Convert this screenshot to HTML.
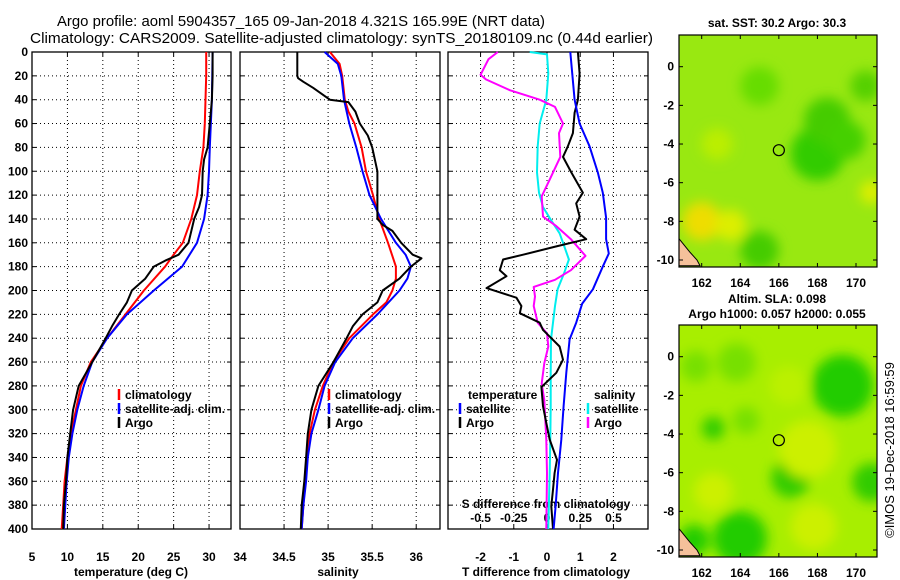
<!DOCTYPE html>
<html><head><meta charset="utf-8"><style>
html,body{margin:0;padding:0;background:#fff;}
svg{display:block;font-family:"Liberation Sans",Arial,sans-serif;}
.t{font-size:12px;font-weight:bold;fill:#000;}
.ttl{font-size:15px;fill:#000;}
</style></head><body>
<svg id="fig" width="900" height="580" viewBox="0 0 900 580" xmlns="http://www.w3.org/2000/svg">
<text class="ttl" x="57" y="26" textLength="488" lengthAdjust="spacingAndGlyphs">Argo profile: aoml 5904357_165 09-Jan-2018 4.321S 165.99E (NRT data)</text>
<text class="ttl" x="30" y="43" textLength="623" lengthAdjust="spacingAndGlyphs">Climatology: CARS2009. Satellite-adjusted climatology: synTS_20180109.nc (0.44d earlier)</text>
<defs><filter id="bl" x="-50%" y="-50%" width="200%" height="200%"><feGaussianBlur stdDeviation="6"/></filter>
<clipPath id="c1"><rect x="679" y="35" width="198" height="232"/></clipPath>
<clipPath id="c2"><rect x="679" y="325" width="198" height="232"/></clipPath></defs>
<g id="root"></g>
<text class="t" transform="translate(894,450) rotate(-90)" text-anchor="middle" style="font-weight:normal;font-size:13px">©IMOS 19-Dec-2018 16:59:59</text>
</svg>
<script>
// ---------- data ----------
const depthT=[0,20,40,60,80,100,120,140,160,170,180,200,220,240,260,280,300,320,340,360,380,400];
const tempClim=[29.6,29.6,29.5,29.4,29.2,28.7,28.3,27.5,26.3,25,23.8,20.8,18.2,15.6,13.3,11.9,11.2,10.5,10,9.6,9.4,9.2];
const depthTS=[0,40,80,100,120,140,160,180,200,220,240,260,280,300,320,340,360,380,400];
const tempSat=[30.5,30.4,30.1,30,29.8,29.3,28.3,26.2,22.2,18.4,15.6,13.5,12.3,11.4,10.7,10.2,9.9,9.7,9.5];
const depthTA=[0,20,40,60,80,90,100,120,130,140,160,170,175,180,190,200,210,220,230,240,260,280,290,300,320,340,360,380,400];
const tempArgo=[30.5,30.5,30.4,30.1,29.8,29.3,29.1,29,28.6,27.9,27.1,25.7,23.8,22.2,21,19.1,18.4,17.3,16.3,15.4,13.5,11.6,11.2,10.8,10.4,10,9.8,9.5,9.4];

const depthSC=[0,10,20,40,50,60,80,100,120,140,160,180,190,200,210,220,240,260,280,300,320,340,360,380,400];
const salClim=[35.02,35.13,35.16,35.19,35.23,35.3,35.38,35.43,35.51,35.58,35.68,35.77,35.77,35.73,35.66,35.51,35.24,35.06,34.94,34.85,34.79,34.76,34.74,34.72,34.7];
const depthSS=[0,10,20,40,60,80,100,120,140,160,170,180,190,200,220,240,260,280,300,320,340,360,380,400];
const salSat=[34.96,35.11,35.15,35.18,35.24,35.32,35.39,35.47,35.6,35.77,35.88,35.94,35.9,35.81,35.56,35.28,35.08,34.96,34.89,34.81,34.77,34.75,34.72,34.7];
const depthSA=[0,20,22,25,30,40,42,50,60,70,80,100,120,140,145,150,160,170,173,180,190,200,210,220,230,240,260,280,290,300,320,340,360,380,400];
const salArgo=[34.65,34.65,34.66,34.72,34.83,35.02,35.23,35.31,35.36,35.45,35.5,35.56,35.56,35.56,35.62,35.73,35.83,35.96,36.06,35.94,35.81,35.62,35.56,35.39,35.28,35.21,35.06,34.89,34.85,34.81,34.77,34.75,34.73,34.7,34.69];

const depthDTS=[0,40,60,79,101,118,139,157,169,180,199,211,227,241,269,297,325,353,381,400];
const dTSat=[0.7,0.83,0.98,1.28,1.53,1.68,1.78,1.78,1.86,1.68,1.38,1.06,0.88,0.68,0.58,0.5,0.43,0.33,0.26,0.2];
const depthDTA=[0,18,40,51,68,79,88,101,118,127,138,149,157,163,170,174,183,188,198,206,213,219,227,233,240,247,258,269,281,297,311,325,342,353,367,381,400];
const dTArgo=[0.93,0.98,0.93,0.83,0.78,0.63,0.48,0.73,1.08,0.88,0.98,0.83,1.18,0.28,-0.72,-1.32,-1.42,-1.22,-1.82,-0.92,-0.77,-0.82,-0.22,-0.12,0.13,0.38,0.48,0.28,-0.17,-0.12,-0.02,0.08,0.3,0.23,0.18,0.13,0.18];
const depthDSS=[0,2,18,40,60,79,101,118,130,141,152,163,174,185,199,213,241,269,297,325,353,400];
const dSSat=[-0.13,0,0.01,-0.005,-0.055,-0.07,-0.075,-0.06,-0.03,0.03,0.095,0.13,0.165,0.13,0.08,0.06,0.03,0.028,0.028,0.025,0.02,0.01];
const depthDSA=[0,6,19,23,32,40,46,60,68,88,107,121,138,146,157,171,183,191,197,205,213,227,236,247,261,278,292,325,353,400];
const dSArgo=[-0.37,-0.44,-0.5,-0.46,-0.28,-0.055,0.06,0.12,0.09,0.1,0.02,-0.04,-0.03,0.07,0.18,0.29,0.18,0.06,-0.1,-0.09,-0.1,-0.07,0,0.01,-0.02,-0.04,-0.02,-0.005,0,-0.005];

const depthTicks=[0,20,40,60,80,100,120,140,160,180,200,220,240,260,280,300,320,340,360,380,400];
const tTicks=[5,10,15,20,25,30];
const tGrid=[5,10,15,20,25,30,35];
const sTicks=[34,34.5,35,35.5,36];
const dtTicks=[-2,-1,0,1,2];
const dsTicks=[-0.5,-0.25,0,0.25,0.5];
const dsTickLabels=["-0.5","-0.25","0","0.25","0.5"];
const lonTicks=[162,164,166,168,170];
const latTicks=[0,-2,-4,-6,-8,-10];

// ---------- helpers ----------
const NS="http://www.w3.org/2000/svg";
const root=document.getElementById('root');
function mk(tag,attrs,parent){const e=document.createElementNS(NS,tag);for(const k in attrs)e.setAttribute(k,attrs[k]);(parent||root).appendChild(e);return e;}
const Y0=52,Y1=529;
const yD=d=>Y0+(Y1-Y0)*d/400;
function lin(d0,d1,r0,r1){return v=>r0+(v-d0)*(r1-r0)/(d1-d0);}

const P=[{x0:32,x1:231,name:'temperature-panel'},{x0:240,x1:440,name:'salinity-panel'},{x0:448,x1:648,name:'difference-panel'}];
const xT=lin(5,33.1,32,231), xS=lin(34,36.27,240,440), xDT=lin(-2.98,3.04,448,648), xDS=v=>xDT(v*4);

function frame(p,xs,xf){
  const g=mk('g',{});
  
  
  depthTicks.forEach(d=>{if(d>0&&d<400){const l=mk('line',{x1:p.x0,x2:p.x1,y1:yD(d),y2:yD(d),stroke:'#000','stroke-width':1,'stroke-dasharray':'1,3'},g);
    
    }
    mk('line',{x1:p.x0,x2:p.x0+4,y1:yD(d),y2:yD(d),stroke:'#000'},g);mk('line',{x1:p.x1-4,x2:p.x1,y1:yD(d),y2:yD(d),stroke:'#000'},g);});
  xs.forEach(v=>{const x=xf(v);if(x>p.x0+1&&x<p.x1-1){const l=mk('line',{x1:x,x2:x,y1:Y0,y2:Y1,stroke:'#000','stroke-dasharray':'1,3'},g);
    
    
    mk('line',{x1:x,x2:x,y1:Y0,y2:Y0+4,stroke:'#000'},g);mk('line',{x1:x,x2:x,y1:Y1-4,y2:Y1,stroke:'#000'},g);}});
  const r=mk('rect',{x:p.x0,y:Y0,width:p.x1-p.x0,height:Y1-Y0,fill:'none',stroke:'#000','stroke-width':1.3},g);
  
  
  return g;
}
function series(ds,vs,xf,col,name,w){
  const pts=ds.map((d,i)=>xf(vs[i]).toFixed(1)+','+yD(d).toFixed(1)).join(' ');
  const l=mk('polyline',{points:pts,fill:'none',stroke:col,'stroke-width':w||2,'stroke-linejoin':'round'});
  
  
}
function txt(x,y,s,anchor,name,extra){
  const t=mk('text',Object.assign({x:x,y:y,class:'t','text-anchor':anchor||'start'},extra||{}));t.textContent=s;
  
  
  return t;
}
function legItem(x,y,col,label,name){
  mk('line',{x1:x,x2:x,y1:y-10,y2:y+1,stroke:col,'stroke-width':2.5});
  txt(x+6,y,label,'start',name);
}

// panel 1
frame(P[0],tGrid,xT);
depthTicks.forEach(d=>txt(28,yD(d)+4,String(d),'end','y-tick-label'));
tTicks.forEach(v=>txt(xT(v),561,String(v),'middle','x-tick-label-temp'));
txt(131,576,'temperature (deg C)','middle','x-axis-title-temp');
series(depthT,tempClim,xT,'#f00','temp-climatology-line');
series(depthTS,tempSat,xT,'#00f','temp-satellite-line');
series(depthTA,tempArgo,xT,'#000','temp-argo-line');
legItem(119,399,'#f00','climatology','legend-climatology');
legItem(119,413,'#00f','satellite-adj. clim.','legend-satellite');
legItem(119,427,'#000','Argo','legend-argo');

// panel 2
frame(P[1],sTicks,xS);
sTicks.forEach(v=>txt(xS(v),561,String(v),'middle','x-tick-label-sal'));
txt(338,576,'salinity','middle','x-axis-title-sal');
series(depthSC,salClim,xS,'#f00','sal-climatology-line');
series(depthSS,salSat,xS,'#00f','sal-satellite-line');
series(depthSA,salArgo,xS,'#000','sal-argo-line');
legItem(329,399,'#f00','climatology','legend-climatology-sal');
legItem(329,413,'#00f','satellite-adj. clim.','legend-satellite-sal');
legItem(329,427,'#000','Argo','legend-argo-sal');

// panel 3
frame(P[2],dtTicks,xDT);
dtTicks.forEach(v=>txt(xDT(v),561,String(v),'middle','x-tick-label-dt'));
txt(546,576,'T difference from climatology','middle','x-axis-title-dt');
dsTicks.forEach((v,i)=>txt(xDS(v),522,dsTickLabels[i],'middle','x-tick-label-ds'));
txt(546,508,'S difference from climatology','middle','s-axis-title');
series(depthDSS,dSSat,xDS,'#0ee','sal-diff-satellite-line');
series(depthDSA,dSArgo,xDS,'#f0f','sal-diff-argo-line');
series(depthDTA,dTArgo,xDT,'#000','temp-diff-argo-line');
series(depthDTS,dTSat,xDT,'#00f','temp-diff-satellite-line');
txt(468,399,'temperature','start','legend-temperature-header');
legItem(460,413,'#00f','satellite','legend-temp-satellite');
legItem(460,427,'#000','Argo','legend-temp-argo');
txt(594,399,'salinity','start','legend-salinity-header');
legItem(588,413,'#0ee','satellite','legend-sal-satellite');
legItem(588,427,'#f0f','Argo','legend-sal-argo');

// ---------- maps ----------
const lonX=lin(162,170,701.7,856);
const latY1=lin(0,-10,66.7,260), latY2=lin(0,-10,356.7,550);
const map1Blobs=[[168,-4.5,1.4,'#33cc00'],[168.5,-2.8,1.2,'#44cc00'],[169.5,-3.8,1,'#44d000'],[170.5,-1,0.8,'#55d000'],[162,-8,1,'#eedd00'],[163.5,-8.2,0.8,'#ddee00'],[165,-9.5,1,'#44cc00'],[162.8,-4,0.8,'#bbee00'],[170.8,-6.5,0.6,'#ddee00'],[165,-1,1,'#66dd00']];
const map2Blobs=[[169.3,-1.5,1.6,'#22cc00'],[170.8,-6.5,1,'#33cc00'],[164,-9.4,1.4,'#22cc00'],[166.6,-6.3,1,'#33cc00'],[162.6,-3.7,0.6,'#33cc00'],[161.6,-9.5,0.8,'#22cc00'],[167.5,-4.8,1.5,'#ccf000'],[162.6,-7,1,'#ccf000'],[167.8,-8.8,1.2,'#ccf000'],[166.5,-1.5,1,'#bbf000'],[163.8,-0.3,1,'#77e000'],[161.7,-0.5,0.8,'#77e000'],[164.3,-3.3,0.7,'#77e000']];
function mapPanel(yTop,latY,base,blobs,clip,name,title,tcoords){
  const g=mk('g',{});
  
  
  const c=mk('g',{'clip-path':'url(#'+clip+')'},g);
  mk('rect',{x:679,y:yTop,width:198,height:232,fill:base},c);
  const bg=mk('g',{filter:'url(#bl)'},c);
  blobs.forEach(b=>{const r=(lonX(b[0]+b[2])-lonX(b[0]));mk('ellipse',{cx:lonX(b[0]),cy:latY(b[1]),rx:r,ry:r,fill:b[3]},bg);});
  mk('path',{d:`M679 ${latY(-8.9)} L690 ${latY(-9.6)} L697 ${latY(-10)} L700 ${latY(-10.3)} L679 ${latY(-10.3)}Z`,fill:'#f5c09a',stroke:'#000','stroke-width':1},c);
  const m=mk('circle',{cx:lonX(166),cy:latY(-4.32),r:5.5,fill:'none',stroke:'#000','stroke-width':1.2},g);
  
  
  mk('rect',{x:679,y:yTop,width:198,height:232,fill:'none',stroke:'#000','stroke-width':1.2},g);
  lonTicks.forEach(v=>{const x=lonX(v);mk('line',{x1:x,x2:x,y1:yTop,y2:yTop+4,stroke:'#000'},g);mk('line',{x1:x,x2:x,y1:yTop+232-4,y2:yTop+232,stroke:'#000'},g);
    txt(x,yTop+252,String(v),'middle','lon-tick-label');});
  latTicks.forEach(v=>{const y=latY(v);mk('line',{x1:679,x2:683,y1:y,y2:y,stroke:'#000'},g);mk('line',{x1:873,x2:877,y1:y,y2:y,stroke:'#000'},g);
    txt(674,y+4,String(v),'end','lat-tick-label');});
  title.forEach((s,i)=>txt(tcoords[i][0],tcoords[i][1],s,'middle','map-title'));
}
mapPanel(35,latY1,'#99e811',map1Blobs,'c1','sst-map',['sat. SST: 30.2 Argo: 30.3'],[[777,27]]);
mapPanel(325,latY2,'#a8ee00',map2Blobs,'c2','sla-map',['Altim. SLA: 0.098','Argo h1000: 0.057 h2000: 0.055'],[[777,303],[777,318]]);
</script>
</body></html>
